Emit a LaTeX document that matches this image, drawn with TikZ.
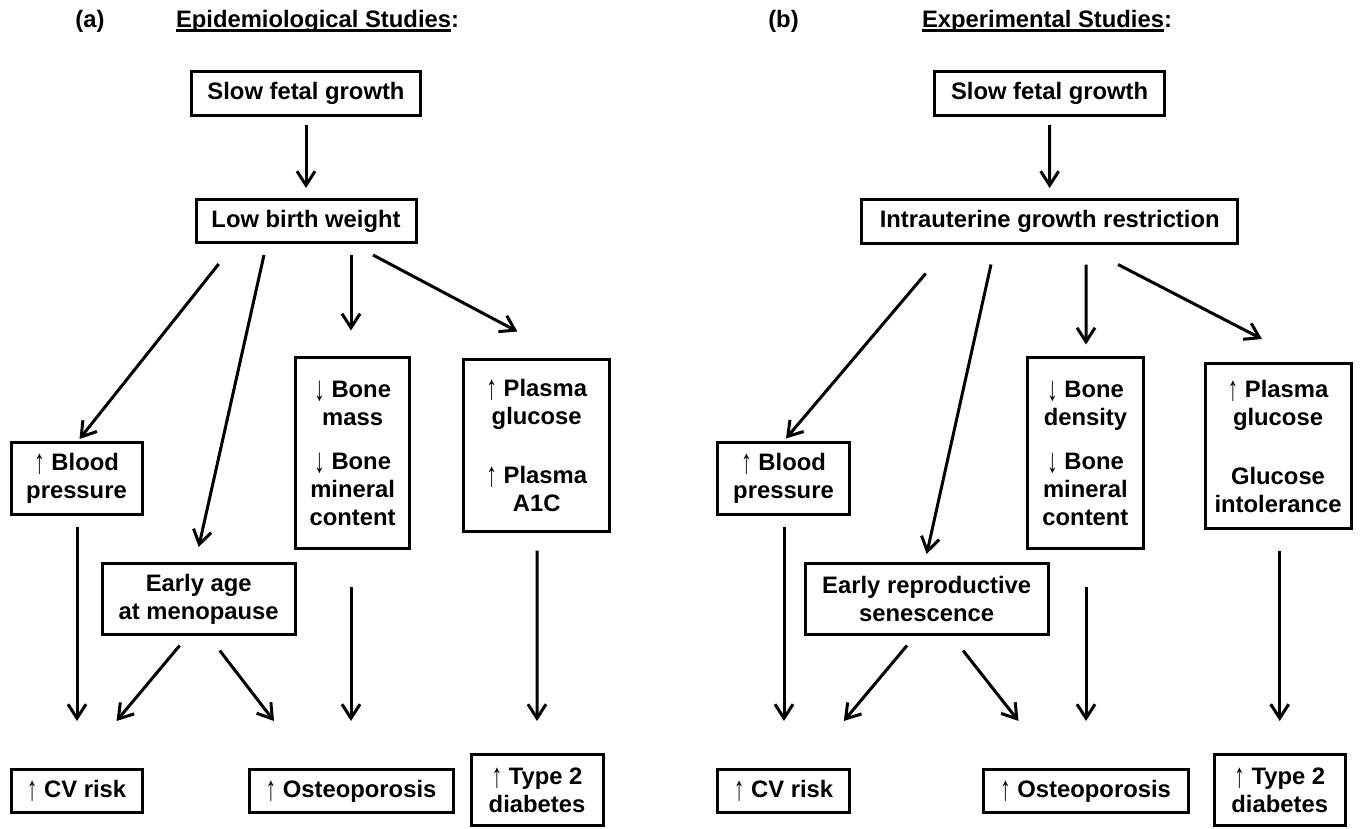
\documentclass[tikz,border=0pt]{standalone}
\usepackage{fontspec}
\setmainfont{Liberation Sans}
\usetikzlibrary{arrows.meta}
\newcommand{\uar}{\raisebox{-1.5pt}{\scalebox{0.9}[1.45]{\mdseries\char"2191}}}
\newcommand{\dar}{\raisebox{-1.5pt}{\scalebox{0.9}[1.45]{\mdseries\char"2193}}}
\newcommand{\ulword}[1]{\setbox0\hbox{#1}\rlap{\rule[-2pt]{\wd0}{1.6pt}}\box0}

\begin{document}
\begin{tikzpicture}[x=0.5pt, y=-0.5pt,
  every node/.style={font=\fontsize{11.9}{14}\selectfont\bfseries},
  box/.style={draw, line width=1.5pt, align=center, inner sep=2pt},
  arr/.style={-{Straight Barb[length=7pt,width=9pt]}, line width=1.5pt},
]
\useasboundingbox (0,0) rectangle (1360,829);

% Panel (a)
\node[anchor=base] (laba) at (90, 28)    {(a)};
\node[anchor=base] (tita) at (317.5, 28) {\ulword{Epidemiological Studies}:};

\node[box, minimum width=114.5pt, minimum height=22pt] (sfga) at (306, 93.5) {Slow fetal growth};
\node[box, minimum width=110pt, minimum height=21.5pt] (lbw) at (306, 221) {Low birth weight};
\node[box, minimum width=65.5pt, minimum height=36pt] (bpa) at (76.5, 478.5) {\uar{} Blood\\pressure};
\node[box, minimum width=57pt, minimum height=95.5pt] (bonea) at (352.6, 453) {\dar{} Bone\\mass\\[8pt]\dar{} Bone\\mineral\\content};
\node[box, minimum width=73pt, minimum height=86pt] (plasa) at (536.7, 445.5) {\uar{} Plasma\\glucose\\[15.5pt]\uar{} Plasma\\A1C};
\node[box, minimum width=96.5pt, minimum height=35.5pt] (meno) at (198.7, 599) {Early age\\at menopause};
\node[box, minimum width=65.5pt, minimum height=21.5pt] (cva) at (76.5, 791) {\uar{} CV risk};
\node[box, minimum width=102pt, minimum height=21.5pt] (osta) at (351, 791) {\uar{} Osteoporosis};
\node[box, minimum width=66pt, minimum height=35.5pt] (t2a) at (537, 790) {\uar{} Type 2\\diabetes};

\draw[arr, shorten <=4pt, shorten >=5pt] (sfga.south) -- (lbw.north);
\draw[arr] ([shift={(-87.3,20)}]lbw.south) -- ([shift={(3,-2)}]bpa.north);
\draw[arr] ([shift={(-42,11)}]lbw.south) -- ([shift={(0,-15)}]meno.north);
\draw[arr] ([shift={(45,11)}]lbw.south) -- ([shift={(-1.6,-25.5)}]bonea.north);
\draw[arr] ([shift={(67,11)}]lbw.south) -- ([shift={(-19.3,-26.5)}]plasa.north);
\draw[arr] ([shift={(0.5,10.5)}]bpa.south) -- ([shift={(0.5,-47)}]cva.north);
\draw[arr] ([shift={(-19,9.5)}]meno.south) -- ([shift={(40,-47)}]cva.north);
\draw[arr] ([shift={(21,14.5)}]meno.south) -- ([shift={(-77,-47)}]osta.north);
\draw[arr] ([shift={(-1.6,37)}]bonea.south) -- ([shift={(0,-47)}]osta.north);
\draw[arr] ([shift={(0.3,17.5)}]plasa.south) -- ([shift={(0,-32)}]t2a.north);

% Panel (b)
\node[anchor=base] (labb) at (783.5, 28) {(b)};
\node[anchor=base] (titb) at (1047, 28)  {\ulword{Experimental Studies}:};

\node[box, minimum width=115pt, minimum height=22pt] (sfgb) at (1049.6, 93.5) {Slow fetal growth};
\node[box, minimum width=188pt, minimum height=22pt] (iugr) at (1049.7, 221.5) {Intrauterine growth restriction};
\node[box, minimum width=66pt, minimum height=36pt] (bpb) at (783.5, 478.5) {\uar{} Blood\\pressure};
\node[box, minimum width=58pt, minimum height=95.5pt] (boneb) at (1085.4, 453) {\dar{} Bone\\density\\[8pt]\dar{} Bone\\mineral\\content};
\node[box, minimum width=73pt, minimum height=82.5pt] (plasb) at (1278, 446) {\uar{} Plasma\\glucose\\[15.5pt]Glucose\\intolerance};
\node[box, minimum width=121.5pt, minimum height=35.5pt] (repro) at (926.7, 599) {Early reproductive\\senescence};
\node[box, minimum width=66pt, minimum height=21.5pt] (cvb) at (783.5, 791) {\uar{} CV risk};
\node[box, minimum width=102.5pt, minimum height=21.5pt] (ostb) at (1085.5, 791) {\uar{} Osteoporosis};
\node[box, minimum width=65.5pt, minimum height=35.5pt] (t2b) at (1279.7, 790) {\uar{} Type 2\\diabetes};

\draw[arr, shorten <=4pt, shorten >=5pt] (sfgb.south) -- (iugr.north);
\draw[arr] ([shift={(-124,28.5)}]iugr.south) -- ([shift={(2.5,-2.5)}]bpb.north);
\draw[arr] ([shift={(-58.7,19.5)}]iugr.south) -- ([shift={(0,-8)}]repro.north);
\draw[arr] ([shift={(36.3,19.5)}]iugr.south) -- ([shift={(0.6,-11.5)}]boneb.north);
\draw[arr] ([shift={(68.3,19.5)}]iugr.south) -- ([shift={(-16,-23)}]plasb.north);
\draw[arr] ([shift={(0.5,10.5)}]bpb.south) -- ([shift={(0.5,-47)}]cvb.north);
\draw[arr] ([shift={(-19.7,9.5)}]repro.south) -- ([shift={(60.3,-47)}]cvb.north);
\draw[arr] ([shift={(36.3,14.5)}]repro.south) -- ([shift={(-67,-47)}]ostb.north);
\draw[arr] ([shift={(0.6,37)}]boneb.south) -- ([shift={(0.5,-47)}]ostb.north);
\draw[arr] ([shift={(1.7,20.5)}]plasb.south) -- ([shift={(0,-32)}]t2b.north);

\end{tikzpicture}
\end{document}
